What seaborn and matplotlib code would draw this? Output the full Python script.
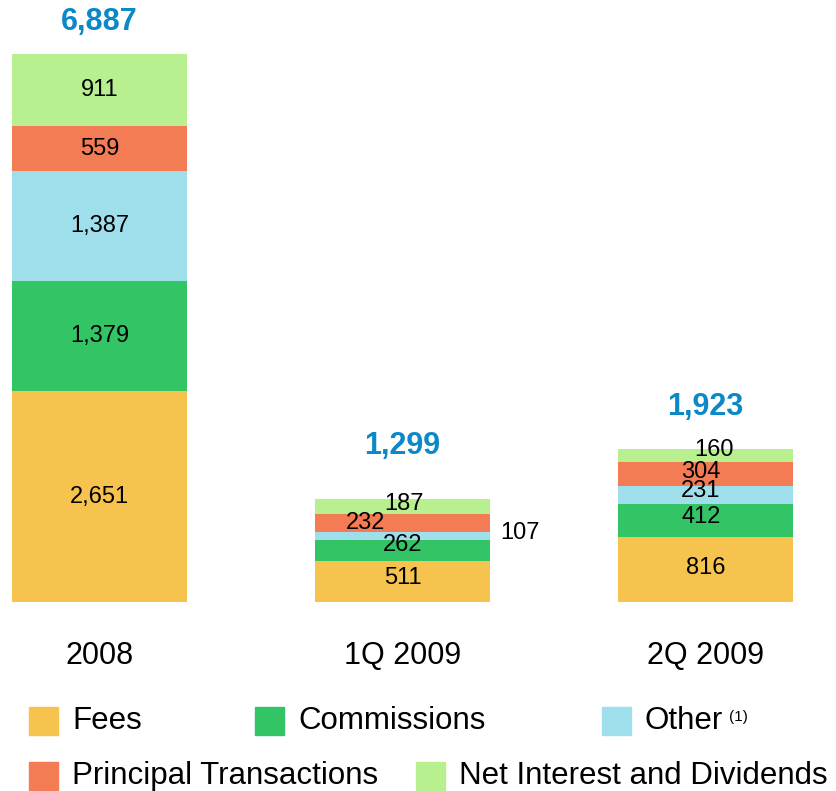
import matplotlib
matplotlib.use('Agg')
import matplotlib.pyplot as plt
from matplotlib.patches import Rectangle
import seaborn as sns
import numpy as np

# datos
periodos = ['2008', '1Q 2009', '2Q 2009']
series = ['Fees', 'Commissions', 'Other', 'Principal Transactions', 'Net Interest and Dividends']
fees = [2651, 511, 816]
commissions = [1379, 262, 412]
other = [1387, 107, 231]
principal = [559, 232, 304]
net_interest = [911, 187, 160]
totales = ['6,887', '1,299', '1,923']

colores = ['#F5C34E', '#33C466', '#9FDEEB', '#F47C55', '#B8F08F']

sns.set_style('white')
plt.rcParams['font.family'] = ['Liberation Sans', 'DejaVu Sans']

fig = plt.figure(figsize=(8.37, 7.91), dpi=100)
ax = fig.add_axes([0, 1 - 602 / 791, 1, 602 / 791])

valores = np.array([fees, commissions, other, principal, net_interest])
acumulado = valores.cumsum(axis=0)

# barras apiladas: se dibuja de arriba hacia abajo
for i in range(len(series) - 1, -1, -1):
    sns.barplot(x=periodos, y=acumulado[i], color=colores[i], saturation=1,
                width=0.578, linewidth=0, ax=ax)

# etiquetas de cada segmento (desplazamiento en pixeles)
desplaz = {
    (0, 0): (0, 0), (0, 1): (0, 0), (0, 2): (0, 0), (0, 3): (0, 0), (0, 4): (0, 0),
    (1, 0): (0, 4), (1, 1): (0, 6), (1, 2): (117, 3), (1, 3): (-37, 0), (1, 4): (2, 2),
    (2, 0): (0, 2), (2, 1): (-4, 4), (2, 2): (-5, 4), (2, 3): (-5, 2), (2, 4): (9, 5),
}
sube_total = [32, 53, 42]
for j in range(len(periodos)):
    for i in range(len(series)):
        base = acumulado[i, j] - valores[i, j]
        dx, dy = desplaz[(j, i)]
        ax.annotate(f'{valores[i, j]:,}', (j, base + valores[i, j] / 2),
                    xytext=(dx, dy), textcoords='offset pixels',
                    ha='center', va='center', fontsize=17, color='black')
    ax.annotate(totales[j], (j, acumulado[-1, j]), xytext=(0, sube_total[j]),
                textcoords='offset pixels', ha='center', va='center',
                fontsize=22, fontweight='bold', color='#0A88C8',
                annotation_clip=False)

ax.set_xlim(-99.5 / 303, -99.5 / 303 + 837 / 303)
ax.set_ylim(0, 602 / 0.07957)
ax.set_yticks([])
ax.tick_params(axis='x', length=0, labelsize=22, pad=28, labelcolor='black')
for s in ax.spines.values():
    s.set_visible(False)
ax.set_xlabel('')
ax.set_ylabel('')

# leyenda manual
W, H = 837, 791
pos_leyenda = [(29, 721), (255, 721), (602, 721), (29, 776), (416, 776)]
for i, (px, py) in enumerate(pos_leyenda):
    fig.patches.append(Rectangle((px / W, (H - py - 14) / H), 29 / W, 28 / H,
                                 transform=fig.transFigure, color=colores[i]))
    fig.text((px + 43) / W, (H - py) / H, series[i], fontsize=22.5,
             va='center', ha='left', color='black')
fig.text(729 / W, (H - 717) / H, '(1)', fontsize=11, va='center', ha='left',
         color='black')

fig.savefig('out.png', dpi=100)
